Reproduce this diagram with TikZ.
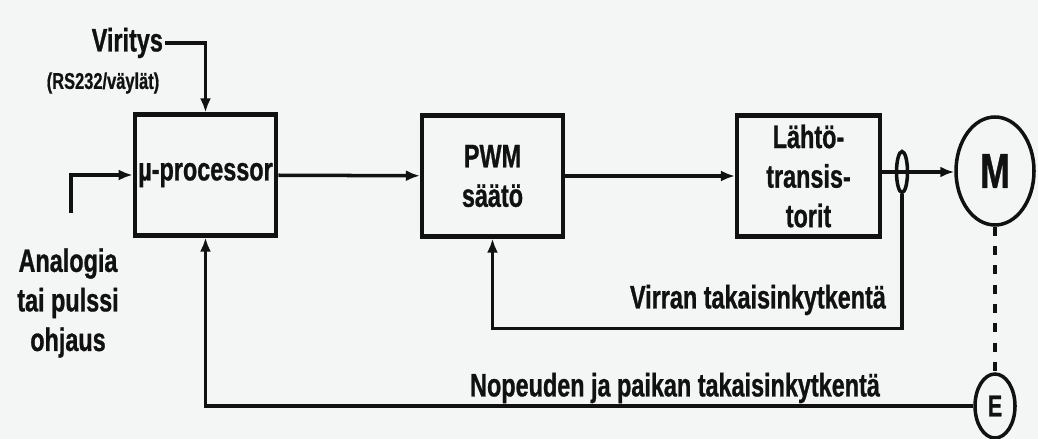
\documentclass[tikz,border=0pt]{standalone}
\usepackage{fontspec}
\setmainfont{Liberation Sans}[FakeStretch=0.72, BoldFeatures={FakeBold=0.8}]
\usetikzlibrary{positioning, arrows.meta, shapes.geometric}
\definecolor{ink}{HTML}{111111}
\definecolor{paper}{HTML}{F3F6F5}
\tikzset{
  every node/.style = {text=ink, font=\bfseries\fontsize{18.5}{22.5}\selectfont},
  sdbox/.style   = {draw=ink, line width=2.4pt, align=center, inner sep=2pt,
                    minimum width=2.82cm, minimum height=2.42cm},
  sdround/.style = {draw=ink, line width=2pt, ellipse, inner sep=0pt},
  sdgo/.style    = {-{Latex[length=2.8mm,width=2.2mm]}, draw=ink, line width=2pt},
  sdline/.style  = {draw=ink, line width=2pt},
  sdlab/.style   = {align=center, inner sep=1pt},
}

\begin{document}
\begin{tikzpicture}
\useasboundingbox[fill=paper] (0,0) rectangle (20.76,-8.78);

% control chain
\node[sdbox] (mcu) at (4.11,-3.50) {µ-processor};
\node[sdbox] (pwm) at (9.85,-3.52) {PWM\\säätö};
\node[sdbox, minimum width=2.86cm] (fet) at (16.17,-3.52) {Lähtö-\\transis-\\torit};
\node[sdround, minimum width=0.22cm, minimum height=0.82cm] (sns) at (18.04,-3.44) {};
\node[sdround, minimum width=1.56cm, minimum height=2.16cm,
      font=\bfseries\fontsize{28}{28}\selectfont] (mot) at (19.90,-3.42) {M};
\node[sdround, minimum width=0.80cm, minimum height=1.28cm,
      font=\bfseries\fontsize{17}{17}\selectfont] (enc) at (19.90,-8.12) {E};

% inputs
\node[sdlab, anchor=east] (vir) at (3.30,-0.86) {Viritys};
\node[sdlab, font=\bfseries\fontsize{13}{15}\selectfont] (bus) at (2.06,-1.66) {(RS232/väylät)};
\node[sdlab] (ana) at (1.36,-6.06) {Analogia\\tai pulssi\\ohjaus};
\coordinate (ain) at (1.42,-4.26);

% feedback labels
\node[sdlab, anchor=east] (ifb) at (17.76,-6.00) {Virran takaisinkytkentä};
\node[sdlab, anchor=east] (nfb) at (17.64,-7.76) {Nopeuden ja paikan takaisinkytkentä};

\draw[sdgo] (vir.east) -| (mcu.north);
\draw[sdgo] (ain) |- (mcu.west);
\draw[sdgo] (mcu) -- (pwm);
\draw[sdgo] (pwm) -- (fet);
\draw[sdgo] (fet.east |- sns) -- (mot.west |- sns);
\draw[sdgo] (sns.south) -- ++(0,-2.68) -| (pwm.south);
\draw[sdgo] (enc.west) -| (mcu.south);
\draw[sdline, dash pattern=on 5pt off 6pt] (mot.south) -- (enc.north);
\end{tikzpicture}
\end{document}
